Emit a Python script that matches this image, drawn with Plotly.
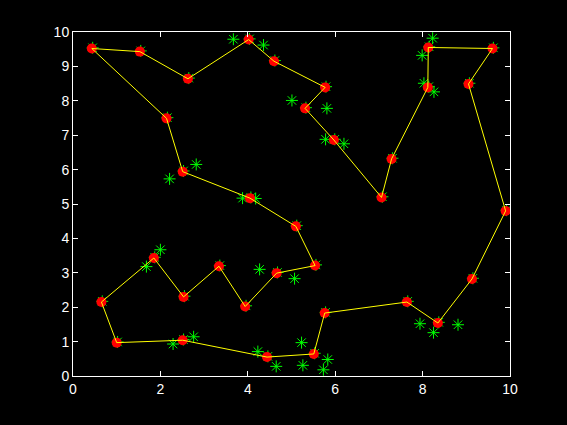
import plotly.graph_objects as go

# Tour vertices (red dots), in path order; path is closed
tour_x = [0.43, 1.53, 2.63, 4.02, 4.60, 5.77, 5.31, 5.97, 7.06, 7.29, 8.12, 8.13, 9.60, 9.05,
          9.90, 9.13, 8.35, 7.64, 5.76, 5.51, 4.44, 2.51, 1.00, 0.65, 1.85, 2.53, 3.34, 3.94,
          4.66, 5.54, 5.10, 4.05, 2.51, 2.14]
tour_y = [9.52, 9.43, 8.64, 9.78, 9.15, 8.39, 7.78, 6.86, 5.19, 6.31, 8.39, 9.55, 9.52, 8.49,
          4.80, 2.82, 1.54, 2.15, 1.83, 0.64, 0.55, 1.04, 0.97, 2.15, 3.43, 2.30, 3.19, 2.02,
          2.99, 3.21, 4.35, 5.17, 5.94, 7.49]

# Extra data points (green asterisks) not hidden under the red dots
star_x = [3.67, 4.36, 2.21, 2.82, 3.88, 4.18, 5.01, 8.23, 7.99, 8.03, 8.26, 5.81, 5.78, 6.20,
          1.68, 2.00, 4.27, 2.76, 2.29, 4.23, 4.65, 5.07, 5.23, 5.26, 5.83, 5.73, 7.94, 8.25, 8.81]
star_y = [9.79, 9.62, 5.73, 6.15, 5.17, 5.16, 8.01, 9.82, 9.32, 8.51, 8.26, 7.78, 6.88, 6.75,
          3.18, 3.67, 3.10, 1.14, 0.93, 0.71, 0.28, 2.83, 0.97, 0.31, 0.48, 0.18, 1.52, 1.26, 1.49]

fig = go.Figure()

# green stars (including those under red dots)
fig.add_trace(go.Scatter(
    x=star_x + [v + 0.02 for v in tour_x], y=star_y + [v + 0.02 for v in tour_y],
    mode="markers",
    marker=dict(symbol="asterisk-open", size=10, color="#00FF00",
                line=dict(color="#00FF00", width=1)),
    hoverinfo="skip", showlegend=False))

fig.add_trace(go.Scatter(
    x=tour_x, y=tour_y, mode="markers",
    marker=dict(symbol="circle", size=10, color="#FF0000", line=dict(width=0)),
    showlegend=False))

fig.add_trace(go.Scatter(
    x=tour_x + [tour_x[0]], y=tour_y + [tour_y[0]], mode="lines",
    line=dict(color="#FFFF00", width=1),
    showlegend=False))

axis_common = dict(
    showgrid=False, zeroline=False, showline=True, linecolor="white", linewidth=1,
    mirror="ticks", ticks="inside", ticklen=5, tickcolor="white",
    tickfont=dict(family="Liberation Sans, Arial", size=14, color="white"),
)

fig.update_layout(
    width=567, height=425,
    margin=dict(l=73, r=57, t=32, b=49),
    paper_bgcolor="black", plot_bgcolor="black",
    xaxis=dict(range=[0, 10], tickvals=[0, 2, 4, 6, 8, 10], **axis_common),
    yaxis=dict(range=[0, 10], tickvals=list(range(11)), **axis_common),
)

fig.write_html(
    "out.html",
    config={"displayModeBar": False},
    post_script="document.body.style.margin='0';document.body.style.background='black';",
)
